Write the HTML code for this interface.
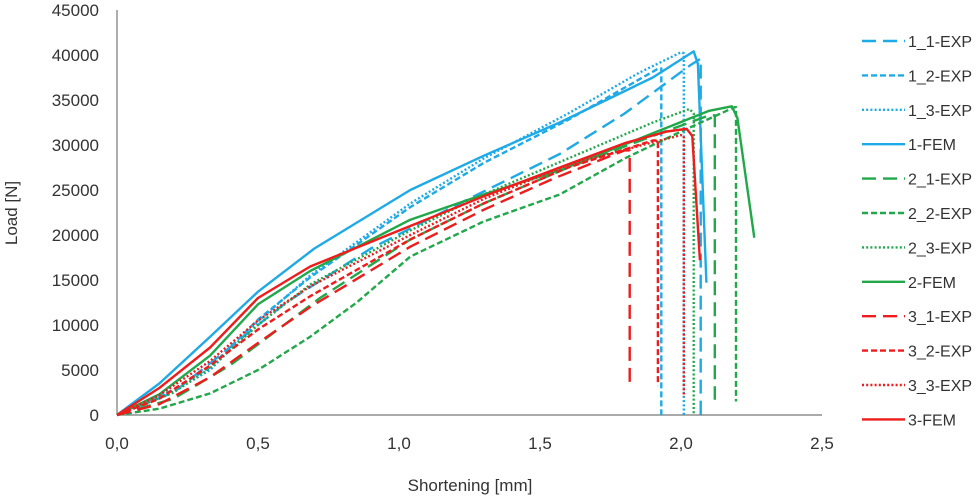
<!DOCTYPE html>
<html><head><meta charset="utf-8"><style>
body{margin:0;background:#fff;}
svg{display:block;font-family:"Liberation Sans",sans-serif;}
</style></head><body>
<svg id="chart" width="978" height="499" viewBox="0 0 978 499" xmlns="http://www.w3.org/2000/svg">
<g id="axes"></g><g id="series"></g><g id="legend"></g>
</svg>
<script>
const xTicks=[0,0.5,1.0,1.5,2.0,2.5];
const yTicks=[0,5000,10000,15000,20000,25000,30000,35000,40000,45000];
const seriesNames=["1_1-EXP","1_2-EXP","1_3-EXP","1-FEM","2_1-EXP","2_2-EXP","2_3-EXP","2-FEM","3_1-EXP","3_2-EXP","3_3-EXP","3-FEM"];
const s11=[[0,0],[0.2,2500],[0.4,7500],[0.6,12500],[0.9,18500],[1.24,23900],[1.57,29000],[1.8,33500],[2.03,38800],[2.07,39600],[2.07,0]];
const s12=[[0,0],[0.2,2800],[0.33,5300],[0.5,10600],[0.685,15300],[1.04,23100],[1.3,28000],[1.6,32800],[1.92,38500],[1.93,38500],[1.93,0]];
const s13=[[0,0],[0.2,2600],[0.33,5000],[0.5,10400],[0.685,15500],[1.04,23500],[1.3,28500],[1.6,33500],[1.85,38000],[2.0,40300],[2.01,40200],[2.01,0]];
const s1F=[[0,0],[0.15,3500],[0.33,8700],[0.5,13700],[0.7,18500],[1.04,25000],[1.3,28800],[1.57,32500],[1.9,37500],[2.045,40400],[2.06,39000],[2.09,14700]];
const s21=[[0,0],[0.2,1800],[0.4,5500],[0.72,13000],[1.04,19500],[1.3,23500],[1.6,27500],[1.9,31000],[2.1,33300],[2.12,33300],[2.12,1700]];
const s22=[[0,0],[0.15,700],[0.33,2400],[0.5,5000],[0.685,8700],[0.85,12500],[1.04,17600],[1.3,21500],[1.57,24500],[1.8,28500],[2.0,31500],[2.19,34200],[2.195,34200],[2.195,1500]];
const s23=[[0,0],[0.2,2500],[0.33,5200],[0.5,10000],[0.685,14500],[1.04,20500],[1.3,24500],[1.6,28500],[1.9,32500],[2.03,34000],[2.045,33500],[2.045,0]];
const s2F=[[0,0],[0.15,2300],[0.33,6600],[0.5,12300],[0.685,16000],[1.04,21700],[1.3,24500],[1.57,27200],[1.9,31300],[2.1,33800],[2.18,34300],[2.2,33000],[2.26,19700]];
const s31=[[0,0],[0.15,1200],[0.33,4200],[0.5,8000],[0.685,12000],[1.04,18700],[1.3,22800],[1.55,26300],[1.8,29400],[1.818,29400],[1.818,3100]];
const s32=[[0,0],[0.15,1800],[0.33,5500],[0.5,9500],[0.685,13200],[1.04,19500],[1.3,23500],[1.6,27500],[1.9,30500],[1.918,30500],[1.918,3300]];
const s33=[[0,0],[0.15,2200],[0.33,6000],[0.5,10500],[0.685,14300],[1.04,20000],[1.3,24000],[1.6,27800],[1.9,30300],[2.0,31100],[2.01,31000],[2.01,2000]];
const s3F=[[0,0],[0.15,3000],[0.33,7500],[0.5,13000],[0.685,16500],[1.04,21000],[1.3,24300],[1.57,27500],[1.8,30200],[1.95,31500],[2.02,31800],[2.04,31000],[2.067,17200]];
const seriesData=[s11,s12,s13,s1F,s21,s22,s23,s2F,s31,s32,s33,s3F];

const NS="http://www.w3.org/2000/svg";
const X0=117,X1=822,Y0=415,Y1=10;
function xs(v){return X0+(v/2.5)*(X1-X0);}
function ys(v){return Y0-(v/45000)*(Y0-Y1);}
function mk(t,a,p){const e=document.createElementNS(NS,t);for(const k in a)e.setAttribute(k,a[k]);p.appendChild(e);return e;}
const colors=["#1eaae6","#21a84a","#ee1c1c"];
const dashes=["14,7","6,3","2,2.2",""];
const axes=document.getElementById('axes');
let l=mk('line',{x1:X0,y1:Y1,x2:X0,y2:Y0,stroke:'#777','stroke-width':1.2},axes);


l=mk('line',{x1:X0,y1:Y0,x2:X1,y2:Y0,stroke:'#777','stroke-width':1.2},axes);


yTicks.forEach(v=>{const t=mk('text',{x:99,y:ys(v)+6,'text-anchor':'end','font-size':17,fill:'#333'},axes);t.textContent=String(v);

});
xTicks.forEach(v=>{const t=mk('text',{x:xs(v),y:449,'text-anchor':'middle','font-size':17,fill:'#333'},axes);t.textContent=v.toFixed(1).replace('.',',');

});
let t=mk('text',{x:470,y:491,'text-anchor':'middle','font-size':17,fill:'#333'},axes);t.textContent='Shortening [mm]';


t=mk('text',{x:0,y:0,'text-anchor':'middle','font-size':17,fill:'#333',transform:'translate(17,213) rotate(-90)'},axes);t.textContent='Load [N]';


const sg=document.getElementById('series');
const lg=document.getElementById('legend');
seriesData.forEach((d,i)=>{
 const c=colors[Math.floor(i/4)],da=dashes[i%4];
 const p=mk('polyline',{points:d.map(q=>xs(q[0]).toFixed(1)+','+ys(q[1]).toFixed(1)).join(' '),fill:'none',stroke:c,'stroke-width':2.4,'stroke-linejoin':'round'},sg);
 if(da)p.setAttribute('stroke-dasharray',da);
 
 
 const y=41+i*34.4;
 const ln=mk('line',{x1:862,y1:y,x2:905,y2:y,stroke:c,'stroke-width':2.4},lg);
 if(da)ln.setAttribute('stroke-dasharray',da);
 
 
 const tx=mk('text',{x:908,y:y+6,'font-size':16,fill:'#333'},lg);tx.textContent=seriesNames[i];
 
 
});
</script>
</body></html>
